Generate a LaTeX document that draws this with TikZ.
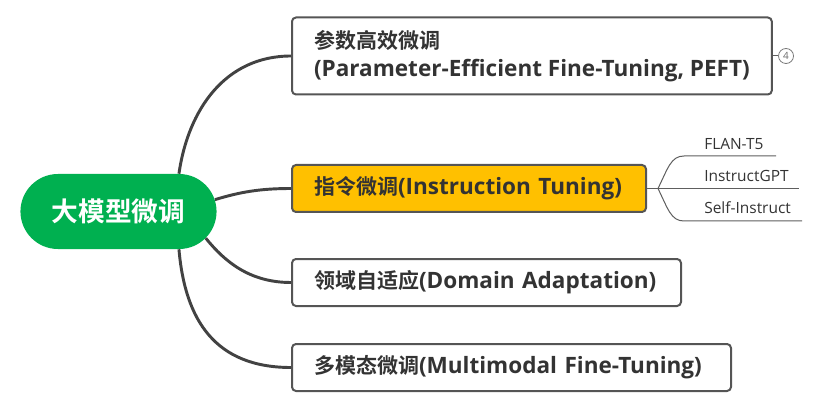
\documentclass[tikz,border=0pt]{standalone}
\usepackage{fontspec}
\setmainfont{Open Sans}
\newfontfamily\cjk{Noto Sans CJK SC}[BoldFont={Noto Sans CJK SC Bold}]
\usetikzlibrary{shapes.misc}
\definecolor{rootgreen}{HTML}{00B050}
\definecolor{tuneyellow}{HTML}{FFC000}
\definecolor{linegray}{HTML}{424242}
\definecolor{textgray}{HTML}{333333}
\newcommand{\zh}[1]{{\cjk\fontsize{15.75}{21}\selectfont #1}}
\tikzset{
	topic/.style={draw=linegray!90, line width=1.5pt, rounded corners=3pt, fill=white, anchor=west, align=left, inner xsep=16.5pt, font=\bfseries\fontsize{16.9}{21}\selectfont, text=textgray},
	branch/.style={draw=linegray, line width=2.2pt},
	leaf/.style={anchor=base west, inner sep=0pt, font=\fontsize{11.6}{13}\selectfont, text=textgray},
	twig/.style={draw=linegray!85, line width=0.75pt}
}

\begin{document}
\begin{tikzpicture}[x=0.75pt, y=-0.75pt]
			%%%%% START %%%%%
			\useasboundingbox (0, 0) rectangle (813, 413);
			
			\node[rounded rectangle, fill=rootgreen, minimum width=153.75pt, minimum height=56.25pt, text=white, font=\cjk\bfseries\fontsize{20}{24}\selectfont] (root) at (118.5, 211.5) {大模型微调};
			
			\node[topic, minimum height=57.75pt] (peft) at (291, 56) {\zh{参数高效微调}\\(Parameter-Efficient Fine-Tuning, PEFT)};
			\node[topic, minimum height=35.25pt, text width=232.5pt, fill=tuneyellow] (inst) at (291, 188.5) {\zh{指令微调}(Instruction Tuning)};
			\node[topic, minimum height=35.25pt, text width=258.75pt] (domain) at (291, 282.5) {\zh{领域自适应}(Domain Adaptation)};
			\node[topic, minimum height=35.25pt, text width=296.25pt] (multi) at (291, 367.5) {\zh{多模态微调}(Multimodal Fine-Tuning)};
			
			\draw[branch] (root.32) .. controls (188, 110) and (225, 56) .. (peft.west);
			\draw[branch] (root.7) .. controls (240, 192) and (260, 188.5) .. (inst.west);
			\draw[branch] (root.-17) .. controls (225, 262) and (250, 282.5) .. (domain.west);
			\draw[branch] (root.-32) .. controls (185, 320) and (215, 367.5) .. (multi.west);
			
			% folded children
			\node[draw=linegray!70, line width=0.6pt, circle, inner sep=0pt, minimum size=11.25pt, text=linegray!80, font=\fontsize{7.5}{8}\selectfont] (more) at (786, 56) {4};
			\draw[twig] (peft.east) -- (more);
			
			% sub topics
			\coordinate (fork) at (658, 188.5);
			\coordinate (flanA) at (684, 156);
			\coordinate (flanB) at (776, 156);
			\coordinate (gptB) at (799, 188.5);
			\coordinate (selfA) at (684, 221);
			\coordinate (selfB) at (802, 221);
			
			\node[leaf] (flan) at (704, 150) {FLAN-T5};
			\node[leaf] (gpt) at (704, 182) {InstructGPT};
			\node[leaf] (self) at (704, 214) {Self-Instruct};
			
			\draw[twig] (inst.east) -- (fork);
			\draw[twig] (fork) .. controls (668, 168) and (671, 156) .. (flanA) -- (flanB);
			\draw[twig] (fork) -- (gptB);
			\draw[twig] (fork) .. controls (668, 209) and (671, 221) .. (selfA) -- (selfB);
			%%%%% END %%%%%
\end{tikzpicture}
\end{document}
